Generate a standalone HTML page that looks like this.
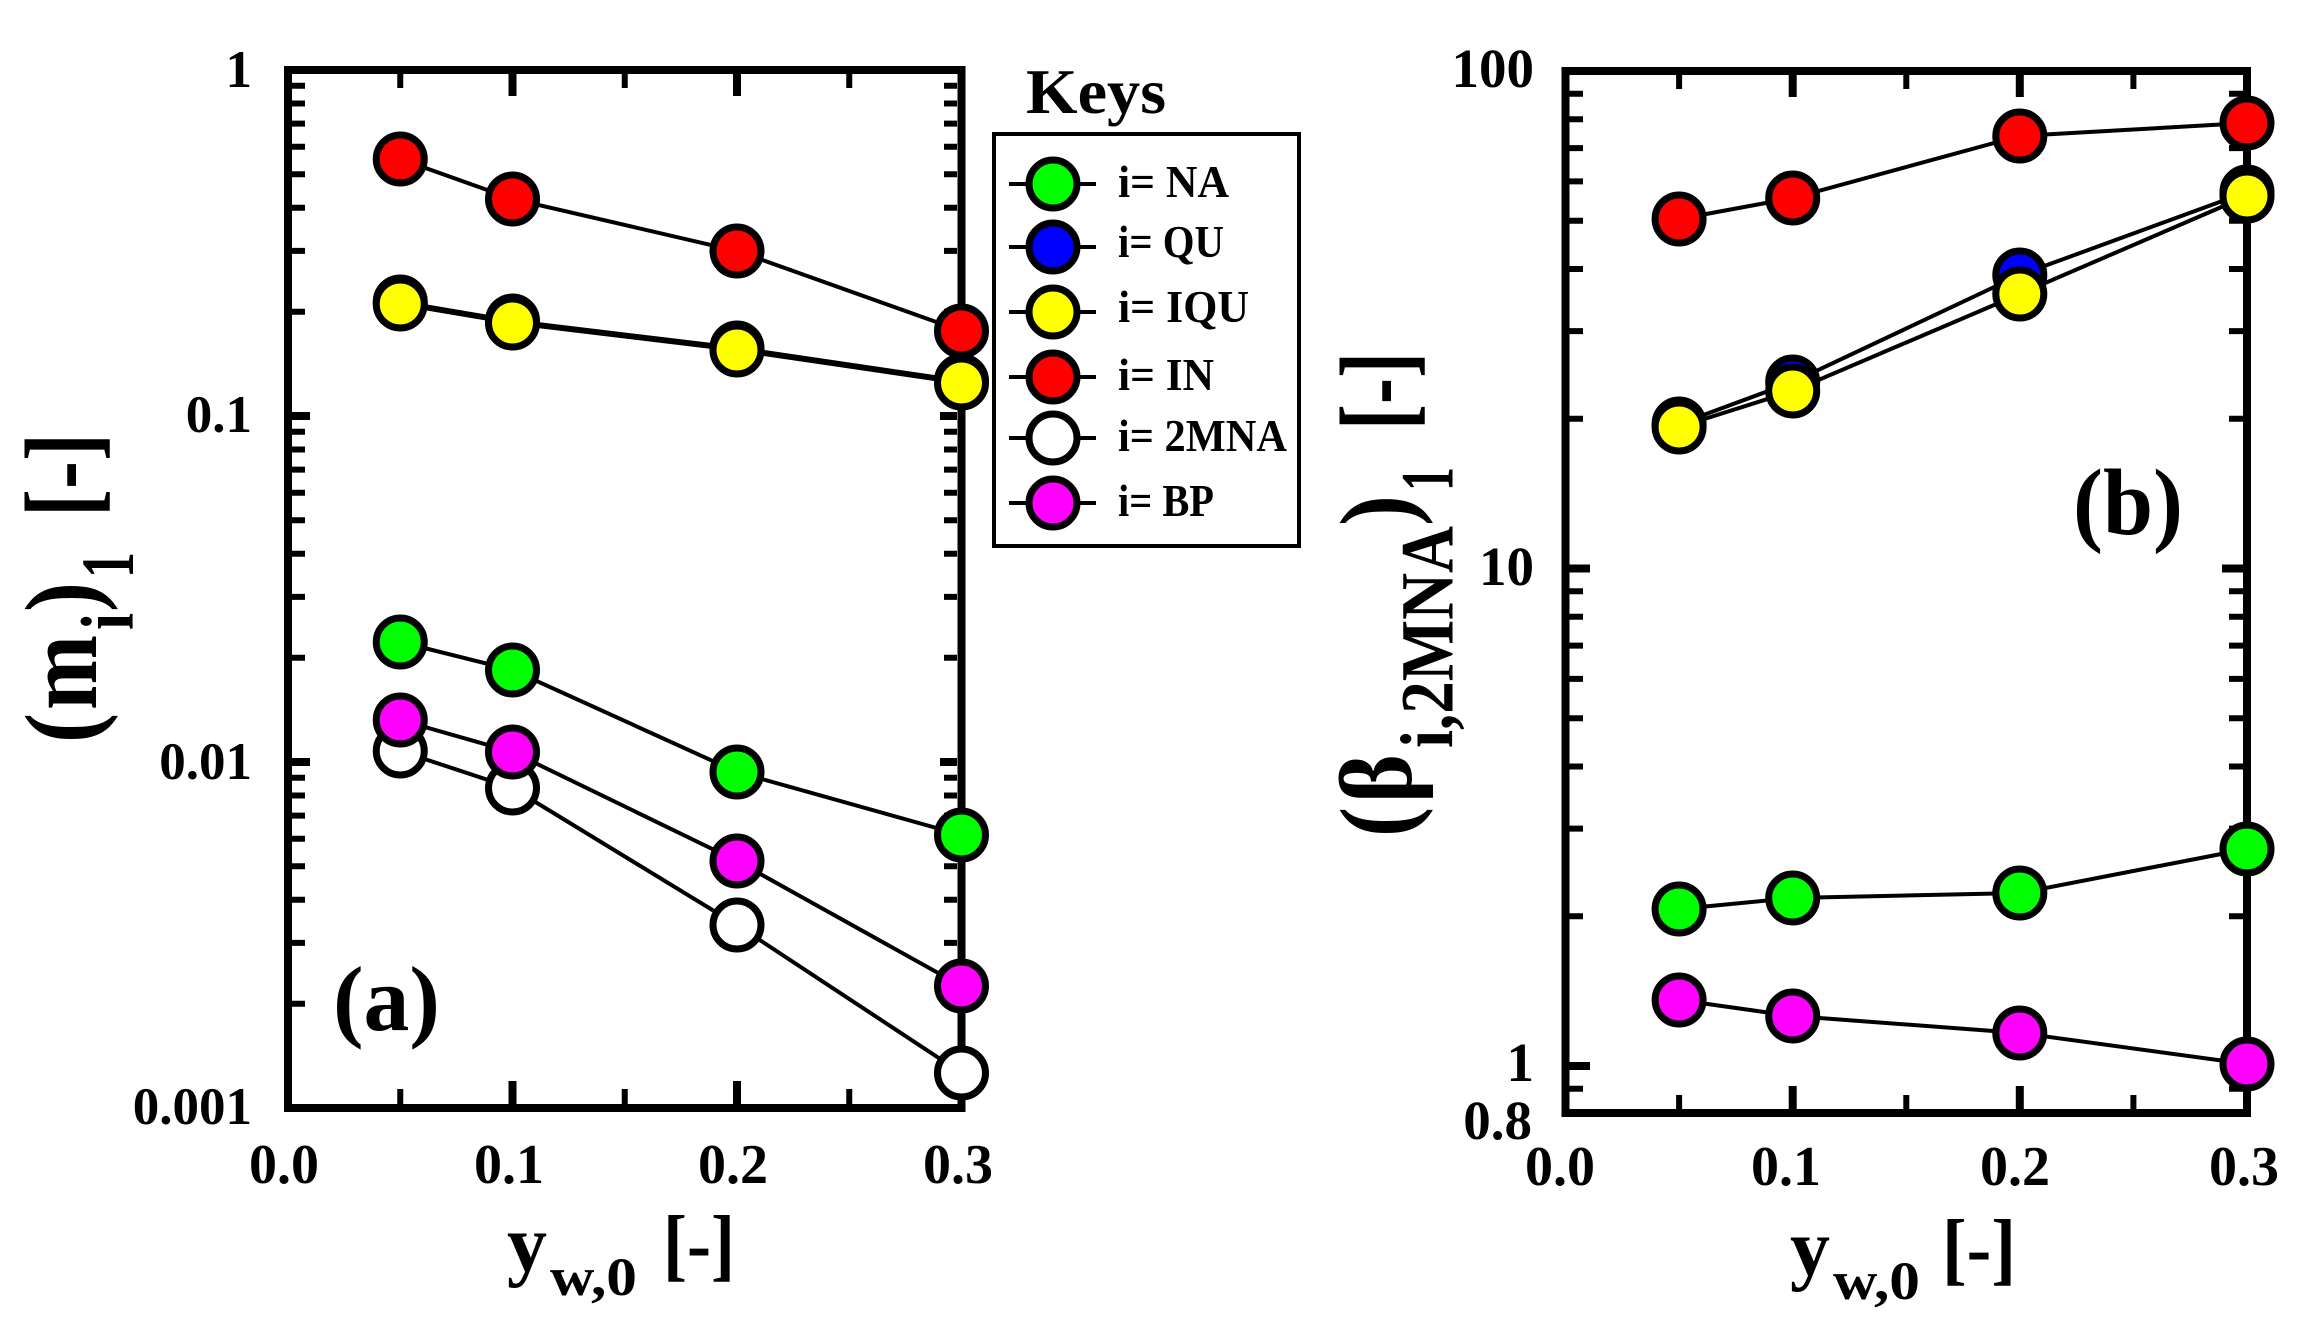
<!DOCTYPE html>
<html><head><meta charset="utf-8"><style>
html,body{margin:0;padding:0;background:#fff;}
svg{display:block;}
text{font-family:"Liberation Serif","DejaVu Serif",serif;font-weight:bold;fill:#000;}
</style></head><body>
<svg xmlns="http://www.w3.org/2000/svg" width="2316" height="1338" viewBox="0 0 2316 1338">
<rect width="2316" height="1338" fill="#fff"/>

<!-- ===== Panel (a) ===== -->
<rect x="288" y="70" width="673.5" height="1038" fill="none" stroke="#000" stroke-width="8"/>
<g stroke="#000" stroke-width="6" fill="none">
<path d="M292 85.8H305M292 103.5H305M292 123.6H305M292 146.8H305M292 174.2H305M292 207.7H305M292 250.9H305M292 311.8H305M292 431.8H305M292 449.5H305M292 469.6H305M292 492.8H305M292 520.2H305M292 553.7H305M292 596.9H305M292 657.8H305M292 777.8H305M292 795.5H305M292 815.6H305M292 838.8H305M292 866.2H305M292 899.7H305M292 942.9H305M292 1003.8H305"/>
<path d="M957 85.8H944M957 103.5H944M957 123.6H944M957 146.8H944M957 174.2H944M957 207.7H944M957 250.9H944M957 311.8H944M957 431.8H944M957 449.5H944M957 469.6H944M957 492.8H944M957 520.2H944M957 553.7H944M957 596.9H944M957 657.8H944M957 777.8H944M957 795.5H944M957 815.6H944M957 838.8H944M957 866.2H944M957 899.7H944M957 942.9H944M957 1003.8H944"/>
<path d="M400.25 74V88M624.75 74V88M849.25 74V88M400.25 1104V1089M624.75 1104V1089M849.25 1104V1089"/>
</g>
<g stroke="#000" stroke-width="8" fill="none">
<path d="M292 416H310M292 762H310M957 416H940M957 762H940"/>
<path d="M512.5 74V96M737 74V96M512.5 1104V1081M737 1104V1081"/>
</g>

<!-- tick labels (a) -->
<g font-size="53" text-anchor="end">
<text x="252" y="87">1</text>
<text x="252" y="432">0.1</text>
<text x="252" y="779">0.01</text>
<text x="252" y="1124">0.001</text>
</g>
<g font-size="56" text-anchor="middle">
<text x="284" y="1183">0.0</text>
<text x="509" y="1183">0.1</text>
<text x="733" y="1183">0.2</text>
<text x="958" y="1183">0.3</text>
</g>

<!-- x title (a) -->
<text x="507" y="1271" font-size="80">y</text>
<text x="550" y="1295" font-size="54" textLength="87" lengthAdjust="spacingAndGlyphs">w,0</text>
<text x="663" y="1271" font-size="80" textLength="72" lengthAdjust="spacingAndGlyphs">[-]</text>

<!-- y title (a) rotated -->
<g transform="translate(96,0) rotate(-90) scale(1,1.25)">
<text x="-743" y="0" font-size="82" textLength="30" lengthAdjust="spacingAndGlyphs">(</text>
<text x="-710" y="0" font-size="82" textLength="75" lengthAdjust="spacingAndGlyphs">m</text>
<text x="-630" y="29.6" font-size="60" textLength="17" lengthAdjust="spacingAndGlyphs">i</text>
<text x="-612" y="0" font-size="82" textLength="30" lengthAdjust="spacingAndGlyphs">)</text>
<text x="-578" y="29.6" font-size="60" textLength="26" lengthAdjust="spacingAndGlyphs">1</text>
<text x="-517" y="0" font-size="82" textLength="84" lengthAdjust="spacingAndGlyphs">[-]</text>
</g>

<!-- (a) label -->
<text x="333" y="1030" font-size="92" textLength="107" lengthAdjust="spacingAndGlyphs">(a)</text>

<!-- series lines (a) -->
<g stroke="#000" stroke-width="4" fill="none">
<polyline points="400.25,642 512.5,670 737,772 961.5,835"/>
<polyline points="400.25,302 512.5,321 737,348 961.5,381"/>
<polyline points="400.25,304 512.5,323 737,350 961.5,383"/>
<polyline points="400.25,159 512.5,199 737,251 961.5,331"/>
<polyline points="400.25,751 512.5,788 737,925 961.5,1073"/>
<polyline points="400.25,720 512.5,752 737,861 961.5,986"/>
</g>
<g stroke="#000" stroke-width="7">
<g fill="#00ff00"><circle cx="400.25" cy="642" r="24"/><circle cx="512.5" cy="670" r="24"/><circle cx="737" cy="772" r="24"/><circle cx="961.5" cy="835" r="24"/></g>
<g fill="#0000ff"><circle cx="400.25" cy="302" r="24"/><circle cx="512.5" cy="321" r="24"/><circle cx="737" cy="348" r="24"/><circle cx="961.5" cy="381" r="24"/></g>
<g fill="#ffff00"><circle cx="400.25" cy="304" r="24"/><circle cx="512.5" cy="323" r="24"/><circle cx="737" cy="350" r="24"/><circle cx="961.5" cy="383" r="24"/></g>
<g fill="#ff0000"><circle cx="400.25" cy="159" r="24"/><circle cx="512.5" cy="199" r="24"/><circle cx="737" cy="251" r="24"/><circle cx="961.5" cy="331" r="24"/></g>
<g fill="#ffffff"><circle cx="400.25" cy="751" r="24"/><circle cx="512.5" cy="788" r="24"/><circle cx="737" cy="925" r="24"/><circle cx="961.5" cy="1073" r="24"/></g>
<g fill="#ff00ff"><circle cx="400.25" cy="720" r="24"/><circle cx="512.5" cy="752" r="24"/><circle cx="737" cy="861" r="24"/><circle cx="961.5" cy="986" r="24"/></g>
</g>

<!-- ===== Legend ===== -->
<text x="1026" y="113" font-size="64" textLength="140" lengthAdjust="spacingAndGlyphs">Keys</text>
<rect x="994" y="134" width="305" height="412" fill="#fff" stroke="#000" stroke-width="4"/>
<g stroke="#000" stroke-width="4">
<path d="M1009 184H1096M1009 247H1096M1009 312H1096M1009 377H1096M1009 438H1096M1009 503H1096"/>
</g>
<g stroke="#000" stroke-width="7">
<circle cx="1053" cy="184" r="24" fill="#00ff00"/>
<circle cx="1053" cy="247" r="24" fill="#0000ff"/>
<circle cx="1053" cy="312" r="24" fill="#ffff00"/>
<circle cx="1053" cy="377" r="24" fill="#ff0000"/>
<circle cx="1053" cy="438" r="24" fill="#ffffff"/>
<circle cx="1053" cy="503" r="24" fill="#ff00ff"/>
</g>
<g font-size="46">
<text x="1118" y="197" textLength="111" lengthAdjust="spacingAndGlyphs">i= NA</text>
<text x="1118" y="257" textLength="106" lengthAdjust="spacingAndGlyphs">i= QU</text>
<text x="1118" y="322" textLength="131" lengthAdjust="spacingAndGlyphs">i= IQU</text>
<text x="1118" y="390" textLength="96" lengthAdjust="spacingAndGlyphs">i= IN</text>
<text x="1118" y="451" textLength="169" lengthAdjust="spacingAndGlyphs">i= 2MNA</text>
<text x="1118" y="516" textLength="96" lengthAdjust="spacingAndGlyphs">i= BP</text>
</g>

<!-- ===== Panel (b) ===== -->
<rect x="1565.5" y="71" width="681.5" height="1042" fill="none" stroke="#000" stroke-width="8"/>
<g stroke="#000" stroke-width="6" fill="none">
<path d="M1569.5 93.8H1583M1569.5 119.2H1583M1569.5 148.1H1583M1569.5 181.4H1583M1569.5 220.8H1583M1569.5 269H1583M1569.5 331.1H1583M1569.5 418.7H1583M1569.5 591.3H1583M1569.5 616.7H1583M1569.5 645.6H1583M1569.5 678.9H1583M1569.5 718.3H1583M1569.5 766.5H1583M1569.5 828.6H1583M1569.5 916.2H1583M1569.5 1088.8H1583"/>
<path d="M2243 93.8H2229M2243 119.2H2229M2243 148.1H2229M2243 181.4H2229M2243 220.8H2229M2243 269H2229M2243 331.1H2229M2243 418.7H2229M2243 591.3H2229M2243 616.7H2229M2243 645.6H2229M2243 678.9H2229M2243 718.3H2229M2243 766.5H2229M2243 828.6H2229M2243 916.2H2229M2243 1088.8H2229"/>
<path d="M1679.1 75V89M1906.3 75V89M2133.4 75V89M1679.1 1109V1095M1906.3 1109V1095M2133.4 1109V1095"/>
</g>
<g stroke="#000" stroke-width="8" fill="none">
<path d="M1569.5 568.5H1590M1569.5 1066H1590M2243 568.5H2222M2243 1066H2222"/>
<path d="M1792.7 75V97M2019.8 75V97M1792.7 1109V1086M2019.8 1109V1086"/>
</g>

<g font-size="55" text-anchor="end">
<text x="1534" y="87">100</text>
<text x="1534" y="585">10</text>
<text x="1534" y="1081">1</text>
<text x="1532" y="1139">0.8</text>
</g>
<g font-size="56" text-anchor="middle">
<text x="1560" y="1185">0.0</text>
<text x="1786" y="1185">0.1</text>
<text x="2015" y="1185">0.2</text>
<text x="2244" y="1185">0.3</text>
</g>

<!-- x title (b) -->
<text x="1790" y="1275" font-size="80">y</text>
<text x="1833" y="1299" font-size="54" textLength="87" lengthAdjust="spacingAndGlyphs">w,0</text>
<text x="1942" y="1275" font-size="80" textLength="74" lengthAdjust="spacingAndGlyphs">[-]</text>

<!-- y title (b) rotated -->
<g transform="translate(1411,0) rotate(-90) scale(1,1.25)">
<text x="-837" y="0" font-size="82" textLength="30" lengthAdjust="spacingAndGlyphs">(</text>
<text x="-803" y="0" font-size="82" textLength="49" lengthAdjust="spacingAndGlyphs">β</text>
<text x="-748" y="33" font-size="60" textLength="222" lengthAdjust="spacingAndGlyphs">i,2MNA</text>
<text x="-526" y="0" font-size="82" textLength="31" lengthAdjust="spacingAndGlyphs">)</text>
<text x="-491" y="33" font-size="60" textLength="24" lengthAdjust="spacingAndGlyphs">1</text>
<text x="-430" y="0" font-size="82" textLength="78" lengthAdjust="spacingAndGlyphs">[-]</text>
</g>

<text x="2073" y="534" font-size="94" textLength="110" lengthAdjust="spacingAndGlyphs">(b)</text>

<g stroke="#000" stroke-width="4" fill="none">
<polyline points="1679.1,909 1792.7,898 2019.8,893 2247,849"/>
<polyline points="1679.1,424 1792.7,382 2019.8,275 2247,192"/>
<polyline points="1679.1,427 1792.7,391 2019.8,294 2247,196"/>
<polyline points="1679.1,219 1792.7,198 2019.8,136 2247,123"/>
<polyline points="1679.1,1000 1792.7,1016 2019.8,1033 2247,1064"/>
</g>
<g stroke="#000" stroke-width="7">
<g fill="#00ff00"><circle cx="1679.1" cy="909" r="24"/><circle cx="1792.7" cy="898" r="24"/><circle cx="2019.8" cy="893" r="24"/><circle cx="2247" cy="849" r="24"/></g>
<g fill="#0000ff"><circle cx="1679.1" cy="424" r="24"/><circle cx="1792.7" cy="382" r="24"/><circle cx="2019.8" cy="275" r="24"/><circle cx="2247" cy="192" r="24"/></g>
<g fill="#ffff00"><circle cx="1679.1" cy="427" r="24"/><circle cx="1792.7" cy="391" r="24"/><circle cx="2019.8" cy="294" r="24"/><circle cx="2247" cy="196" r="24"/></g>
<g fill="#ff0000"><circle cx="1679.1" cy="219" r="24"/><circle cx="1792.7" cy="198" r="24"/><circle cx="2019.8" cy="136" r="24"/><circle cx="2247" cy="123" r="24"/></g>
<g fill="#ff00ff"><circle cx="1679.1" cy="1000" r="24"/><circle cx="1792.7" cy="1016" r="24"/><circle cx="2019.8" cy="1033" r="24"/><circle cx="2247" cy="1064" r="24"/></g>
</g>
</svg>
</body></html>
